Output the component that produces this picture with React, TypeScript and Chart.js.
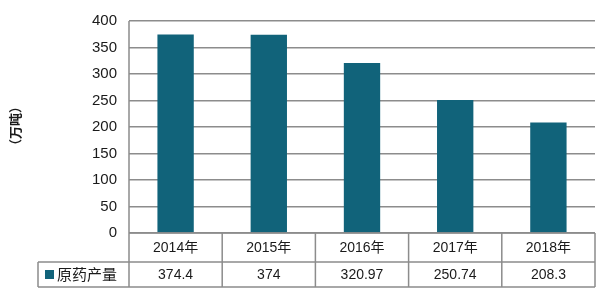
import React, { useEffect, useRef } from "react";
import { Chart, registerables } from "chart.js";

Chart.register(...registerables);

const categories = ["2014年", "2015年", "2016年", "2017年", "2018年"];
const seriesName = "原药产量";
const values = [374.4, 374, 320.97, 250.74, 208.3];
const yTicks = [0, 50, 100, 150, 200, 250, 300, 350, 400];
const yTitle = "（万吨）";

const BAR = "#11637a";
const GRID = "#8c8c8c";
const TEXT = "#1a1a1a";
const FONT = "'Liberation Sans', 'Noto Sans CJK SC', sans-serif";
const CJK = "'Noto Sans CJK SC', sans-serif";

const tablePlugin = {
  id: "dataTable",
  afterDraw(chart: any) {
    const ctx = chart.ctx;
    const area = chart.chartArea;
    const x = chart.scales.x;
    const left = area.left;
    const right = area.right;
    const top = area.bottom;
    const rowH1 = 29;
    const rowH2 = 25;
    const mid = top + rowH1;
    const bottom = mid + rowH2;
    const legendLeft = 38;
    const n = categories.length;
    const step = (right - left) / n;

    ctx.save();
    ctx.strokeStyle = GRID;
    ctx.lineWidth = 1.5;
    ctx.beginPath();
    ctx.moveTo(left, top);
    ctx.lineTo(right, top);
    ctx.moveTo(legendLeft, mid);
    ctx.lineTo(right, mid);
    ctx.moveTo(legendLeft, bottom);
    ctx.lineTo(right, bottom);
    ctx.moveTo(legendLeft, mid);
    ctx.lineTo(legendLeft, bottom);
    for (let i = 0; i <= n; i++) {
      const xx = left + step * i;
      ctx.moveTo(xx, i === 0 ? area.top : top);
      ctx.lineTo(xx, bottom);
    }
    ctx.stroke();

    ctx.fillStyle = TEXT;
    ctx.textAlign = "center";
    ctx.textBaseline = "middle";
    ctx.font = `14px ${FONT}`;
    categories.forEach((c, i) => {
      const cx = x.getPixelForValue(i);
      ctx.fillText(c, cx, top + rowH1 / 2 + 1);
    });
    values.forEach((v, i) => {
      const cx = x.getPixelForValue(i);
      ctx.fillText(String(v), cx, mid + rowH2 / 2 + 1);
    });

    ctx.fillStyle = BAR;
    ctx.fillRect(45, mid + 8, 9, 9);
    ctx.fillStyle = TEXT;
    ctx.textAlign = "left";
    ctx.font = `15px ${FONT}`;
    ctx.fillText(seriesName, 57, mid + rowH2 / 2 + 1);

    ctx.translate(15, 126);
    ctx.rotate(-Math.PI / 2);
    ctx.textAlign = "center";
    ctx.font = `bold 13px ${CJK}`;
    ctx.fillText(yTitle, 0, 0);
    ctx.restore();
  },
};

export default function App() {
  const ref = useRef<HTMLCanvasElement>(null);
  useEffect(() => {
    if (!ref.current) return;
    const chart = new Chart(ref.current, {
      type: "bar",
      data: {
        labels: categories,
        datasets: [
          {
            label: seriesName,
            data: values,
            backgroundColor: BAR,
            borderWidth: 0,
            categoryPercentage: 1,
            barPercentage: 0.39,
          },
        ],
      },
      options: {
        animation: false,
        responsive: false,
        maintainAspectRatio: false,
        layout: { padding: { left: 0, right: 5, top: 21, bottom: 61 } },
        plugins: { legend: { display: false }, tooltip: { enabled: false } },
        scales: {
          x: { display: false },
          y: {
            min: 0,
            max: 400,
            afterBuildTicks: (s: any) => {
              s.ticks = yTicks.map((v) => ({ value: v }));
            },
            afterFit: (s: any) => {
              s.width = 129;
            },
            grid: { color: GRID, lineWidth: 1.5, drawTicks: false },
            border: { display: false },
            ticks: {
              padding: 12,
              color: TEXT,
              font: { family: FONT, size: 15 },
            },
          },
        },
      },
      plugins: [tablePlugin],
    });
    return () => chart.destroy();
  }, []);
  return (
    <div style={{ position: "fixed", left: 0, top: 0, width: 600, height: 294, background: "#fff" }}>
      <canvas ref={ref} width={600} height={294} style={{ width: 600, height: 294 }} />
    </div>
  );
}
